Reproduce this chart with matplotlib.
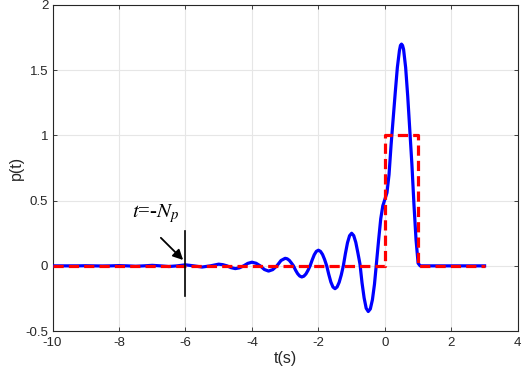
import matplotlib
matplotlib.use('Agg')
from matplotlib import pyplot as plt

# blue curve p(t)
t_p = [-10, -9.75, -9.5, -9.25, -9, -8.75, -8.5, -8.25, -8, -7.75, -7.5, -7.25,
       -7, -6.75, -6.5, -6.25, -6, -5.75, -5.5, -5.25, -5,
       -4.875, -4.75, -4.625, -4.5, -4.375, -4.25, -4.125, -4,
       -3.875, -3.75, -3.625, -3.5, -3.375, -3.25, -3.125,
       -3, -2.9375, -2.875, -2.8125, -2.75, -2.6875, -2.625, -2.5625,
       -2.5, -2.4375, -2.375, -2.3125, -2.25, -2.1875, -2.125, -2.0625,
       -2, -1.9375, -1.875, -1.8125, -1.75, -1.6875, -1.625, -1.5625,
       -1.5, -1.4375, -1.375, -1.3125, -1.25, -1.1875, -1.125, -1.0625,
       -1, -0.9375, -0.875, -0.8125, -0.75, -0.6875, -0.625, -0.5625,
       -0.5, -0.4375, -0.375, -0.3125, -0.25, -0.1875, -0.125, -0.0625,
       0, 0.0625, 0.125, 0.1875, 0.25, 0.3125, 0.375, 0.4375, 0.46875, 0.5,
       0.53125, 0.5625, 0.625, 0.6875, 0.75, 0.8125, 0.875, 0.9375, 1.0, 1.0625,
       1.5, 2, 2.5, 3]
p_vals = [0, 0, 0, 0, 0.001, 0, -0.001, 0, 0.002, 0, -0.003, 0,
          0.004, 0, -0.005, 0, 0.008, 0, -0.009, 0, 0.013,
          0.009, 0, -0.014, -0.021, -0.015, 0, 0.019, 0.028,
          0.02, 0, -0.028, -0.04, -0.029, 0, 0.041,
          0.058, 0.054, 0.042, 0.022, 0, -0.033, -0.06, -0.078,
          -0.085, -0.079, -0.062, -0.034, 0, 0.045, 0.085, 0.111,
          0.12, 0.111, 0.087, 0.048, 0, -0.066, -0.124, -0.162,
          -0.175, -0.162, -0.126, -0.07, 0, 0.094, 0.177, 0.231,
          0.25, 0.232, 0.18, 0.1, 0.015, -0.13, -0.245, -0.325,
          -0.35, -0.33, -0.26, -0.14, 0.03, 0.2, 0.36, 0.46,
          0.51, 0.56, 0.7, 0.93, 1.13, 1.33, 1.52, 1.65, 1.69, 1.7,
          1.69, 1.66, 1.52, 1.3, 1.04, 0.78, 0.47, 0.2, 0.02, 0,
          0, 0, 0, 0]

# red dashed rectangular pulse
t_rect = [-10, 0, 0, 1, 1, 3]
rect_vals = [0, 0, 1, 1, 0, 0]

# marker at t = -Np
Np = 6

fig = plt.figure(figsize=(5.22, 3.72), dpi=100)
ax = fig.add_axes([0.1006, 0.110, 0.8914, 0.8766])

ax.plot(t_p, p_vals, color='#0000ff', lw=2.3, zorder=3)
ax.plot(t_rect, rect_vals, color='#ff0000', lw=2.3, ls=(0, (3.2, 1.6)), zorder=4)
ax.plot([-Np, -Np], [-0.23, 0.27], color='black', lw=1.2, zorder=5)

ax.annotate('', xy=(-6.07, 0.045), xytext=(-6.74, 0.215),
            arrowprops=dict(arrowstyle='-|>', color='black', lw=1.3,
                            mutation_scale=15, shrinkA=0, shrinkB=0))
ax.text(-7.62, 0.37, r'$t$=-$N_p$', fontsize=15, family='Liberation Serif',
        math_fontfamily='stix')

ax.set_xlim(-10, 4)
ax.set_ylim(-0.5, 2)
ax.set_xticks([-10, -8, -6, -4, -2, 0, 2, 4])
ax.set_yticks([-0.5, 0, 0.5, 1, 1.5, 2])
ax.set_yticklabels(['-0.5', '0', '0.5', '1', '1.5', '2'])
ax.set_xticklabels(['-10', '-8', '-6', '-4', '-2', '0', '2', '4'])
ax.grid(True, color='#e6e6e6', lw=0.8)
ax.set_axisbelow(True)
ax.tick_params(direction='in', length=3, width=0.6, top=True, right=True,
               labelsize=9.5, colors='#262626', pad=3)
ax.tick_params(axis='x', pad=4)
for lab in ax.get_xticklabels() + ax.get_yticklabels():
    lab.set_family('Liberation Sans')
for s in ax.spines.values():
    s.set_color('#262626')
    s.set_linewidth(0.8)

ax.set_xlabel('t(s)', fontsize=11.5, family='Liberation Sans', color='#262626', labelpad=2)
ax.set_ylabel('p(t)', fontsize=11.5, family='Liberation Sans', color='#262626', labelpad=1)

fig.savefig('out.png', dpi=100)
